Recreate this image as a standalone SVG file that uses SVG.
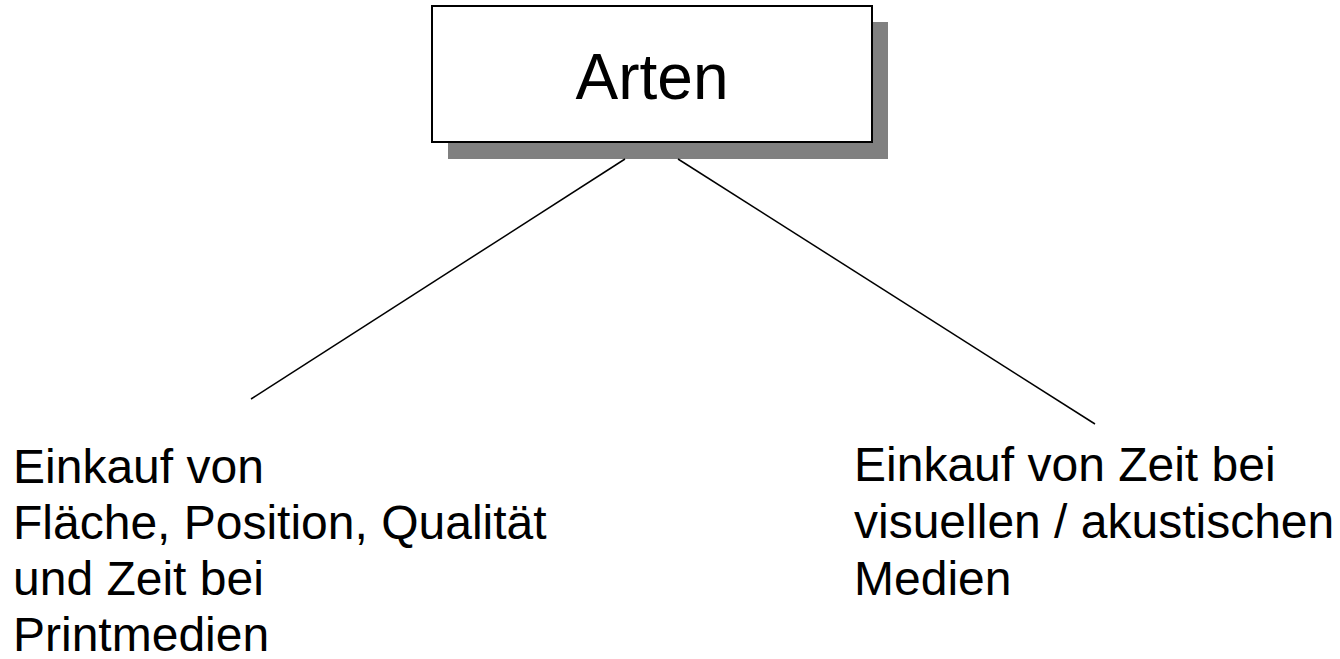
<svg xmlns="http://www.w3.org/2000/svg" width="1340" height="659" viewBox="0 0 1340 659">
  <style>
    .label { font-family: "Liberation Sans", Arial, sans-serif; fill: #000; }
    .leaf { font-size: 48px; }
    .title { font-size: 64px; }
    .edge { stroke: #000; stroke-width: 1.5; fill: none; }
  </style>
  <rect width="1340" height="659" fill="#fff"/>
  <g id="node-arten">
    <rect x="448" y="22" width="440" height="137" fill="#808080"/>
    <rect x="432" y="6" width="440" height="136" fill="#fff" stroke="#000" stroke-width="2"/>
    <text class="label title" x="652" y="99" text-anchor="middle">Arten</text>
  </g>
  <g id="connectors">
    <line class="edge" x1="625" y1="159" x2="251" y2="399"/>
    <line class="edge" x1="678" y1="159" x2="1095" y2="424"/>
  </g>
  <g id="node-print">
    <text class="label leaf">
      <tspan x="13" y="483">Einkauf von</tspan>
      <tspan x="13" y="539">Fläche, Position, Qualität</tspan>
      <tspan x="13" y="595">und Zeit bei</tspan>
      <tspan x="13" y="651">Printmedien</tspan>
    </text>
  </g>
  <g id="node-funk">
    <text class="label leaf">
      <tspan x="854" y="481">Einkauf von Zeit bei</tspan>
      <tspan x="854" y="538">visuellen / akustischen</tspan>
      <tspan x="854" y="595">Medien</tspan>
    </text>
  </g>
</svg>
